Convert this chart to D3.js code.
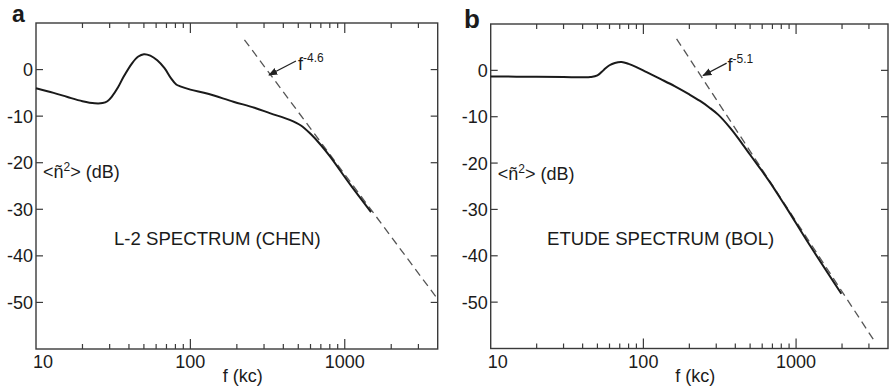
<!DOCTYPE html>
<html><head><meta charset="utf-8">
<script src="https://cdn.jsdelivr.net/npm/d3@7"></script>
<style>
body{margin:0;background:#fff}
svg{display:block}
text{font-family:"Liberation Sans", Arial, sans-serif; fill:#1b1b1b}
</style>
</head><body>
<svg id="c" width="889" height="389"></svg>
<script>
// ---- data ----
const yTicks = [0, -10, -20, -30, -40, -50];
const xLabels = [10, 100, 1000];
const minorTicks = [20,30,40,50,60,70,80,90,200,300,400,500,600,700,800,900,2000,3000];
const majorTicks = [100, 1000];

const freqA = [10,13,16,20,24,27,29,31,34,37,42,46,50,55,61,68,75,81,86,100,130,190,260,330,440,520,600,700,800,1080,1480];
const dbA   = [-4.0,-5.0,-5.9,-6.8,-7.25,-7.2,-6.8,-5.8,-3.8,-1.5,1.4,2.8,3.3,3.0,2.0,0.3,-1.9,-3.2,-3.6,-4.3,-5.2,-6.9,-8.2,-9.4,-10.8,-12.0,-13.8,-16.2,-18.6,-24.6,-30.6];
const dashFreqA = [224, 4000];
const dashDbA   = [6.4, -49.3];

const freqB = [10,20,30,40,45,50,55,60,65,72,80,90,105,130,160,200,235,270,310,370,430,500,580,670,800,910,1170,1980];
const dbB   = [-1.3,-1.4,-1.45,-1.5,-1.45,-1.1,0.1,1.1,1.6,1.8,1.4,0.7,-0.4,-1.9,-3.4,-5.2,-6.6,-8.0,-9.6,-12.4,-15.2,-18.2,-21.1,-24.0,-27.9,-30.8,-36.6,-48.2];
const dashFreqB = [165, 3200];
const dashDbB   = [6.8, -58.0];

const panels = [
  {letter:"a", x0:36, x1:437.7, y0:23, y1:349, freq:freqA, db:dbA, dashF:dashFreqA, dashD:dashDbA,
   title:"L-2 SPECTRUM (CHEN)", titleX:114, exp:"-4.6", ylab:-23.3,
   arrowTail:[483,1.85], arrowHead:[323,-1.16], expAt:[498,-0.1],
   letterX:12, letterY:21.5, letterSize:23},
  {letter:"b", x0:490.7, x1:888, y0:24, y1:348.5, freq:freqB, db:dbB, dashF:dashFreqB, dashD:dashDbB,
   title:"ETUDE SPECTRUM (BOL)", titleX:547, exp:"-5.1", ylab:-23.7,
   arrowTail:[351,1.55], arrowHead:[246,-1.1], expAt:[356,-0.1],
   letterX:464, letterY:28, letterSize:26}
];

const svg = d3.select("#c");
const defs = svg.append("defs");
defs.append("marker").attr("id","arr").attr("viewBox","0 0 10 10").attr("refX",9).attr("refY",5)
  .attr("markerWidth",7).attr("markerHeight",7).attr("orient","auto-start-reverse")
  .append("path").attr("d","M0,1 L10,5 L0,9 Z").attr("fill","#222");

const axisColor = "#3a3a3a";
const fs = 18;

panels.forEach(p => {
  const x = d3.scaleLog().domain([10, 4000]).range([p.x0, p.x1]);
  const y = d3.scaleLinear().domain([-60, 10]).range([p.y1, p.y0]);
  const g = svg.append("g");

  // frame
  g.append("rect").attr("x", p.x0).attr("y", p.y0).attr("width", p.x1 - p.x0).attr("height", p.y1 - p.y0)
    .attr("fill","none").attr("stroke", axisColor).attr("stroke-width", 1.4);

  // x ticks top & bottom (inward)
  const xt = minorTicks.map(v => ({v, len:5})).concat(majorTicks.map(v => ({v, len:10})));
  xt.forEach(t => {
    g.append("line").attr("x1", x(t.v)).attr("x2", x(t.v)).attr("y1", p.y1).attr("y2", p.y1 - t.len)
      .attr("stroke", axisColor).attr("stroke-width", 1.2);
    g.append("line").attr("x1", x(t.v)).attr("x2", x(t.v)).attr("y1", p.y0).attr("y2", p.y0 + t.len)
      .attr("stroke", axisColor).attr("stroke-width", 1.2);
  });
  // y ticks left & right (inward)
  yTicks.forEach(v => {
    g.append("line").attr("x1", p.x0).attr("x2", p.x0 + 7).attr("y1", y(v)).attr("y2", y(v))
      .attr("stroke", axisColor).attr("stroke-width", 1.2);
    g.append("line").attr("x1", p.x1).attr("x2", p.x1 - 7).attr("y1", y(v)).attr("y2", y(v))
      .attr("stroke", axisColor).attr("stroke-width", 1.2);
    g.append("text").attr("x", p.x0 - 3).attr("y", y(v)).attr("dy", "0.36em")
      .attr("text-anchor","end").attr("font-size", fs).text(v);
  });
  // x labels
  xLabels.forEach(v => {
    const first = v === 10;
    g.append("text").attr("x", first ? x(v) - 3 : x(v)).attr("y", p.y1 + 19)
      .attr("text-anchor", first ? "start" : "middle").attr("font-size", fs).text(v);
  });
  g.append("text").attr("x", (p.x0 + p.x1) / 2 + 6).attr("y", p.y1 + 33)
    .attr("text-anchor","middle").attr("font-size", fs).text("f (kc)");

  // y label inside
  const yl = g.append("text").attr("x", p.x0 + 7).attr("y", y(p.ylab)).attr("font-size", fs);
  yl.append("tspan").text("<ñ");
  yl.append("tspan").attr("font-size", 12).attr("dy", -7).text("2");
  yl.append("tspan").attr("dy", 7).text("> (dB)");

  // title inside
  g.append("text").attr("x", p.titleX).attr("y", y(-37.7)).attr("font-size", 18.6).text(p.title);

  // panel letter
  g.append("text").attr("x", p.letterX).attr("y", p.letterY).attr("font-size", p.letterSize)
    .attr("font-weight","bold").attr("fill","#111").text(p.letter);

  // dashed power-law line
  const dashData = p.dashF.map((f, i) => [f, p.dashD[i]]);
  g.append("path").datum(dashData)
    .attr("d", d3.line().x(d => x(d[0])).y(d => y(d[1])))
    .attr("fill","none").attr("stroke","#555").attr("stroke-width",1.3).attr("stroke-dasharray","8,5");

  // solid spectrum
  const data = p.freq.map((f, i) => [f, p.db[i]]);
  g.append("path").datum(data)
    .attr("d", d3.line().x(d => x(d[0])).y(d => y(d[1])).curve(d3.curveCatmullRom.alpha(0.5)))
    .attr("fill","none").attr("stroke","#1a1a1a").attr("stroke-width",2).attr("stroke-linejoin","round");

  // annotation arrow + exponent
  g.append("line").attr("x1", x(p.arrowTail[0])).attr("y1", y(p.arrowTail[1]))
    .attr("x2", x(p.arrowHead[0])).attr("y2", y(p.arrowHead[1]))
    .attr("stroke","#222").attr("stroke-width",1.3).attr("marker-end","url(#arr)");
  const et = g.append("text").attr("x", x(p.expAt[0])).attr("y", y(p.expAt[1])).attr("font-size", fs);
  et.append("tspan").text("f");
  et.append("tspan").attr("font-size", 12).attr("dy", -8).text(p.exp);
});
</script>
</body></html>
